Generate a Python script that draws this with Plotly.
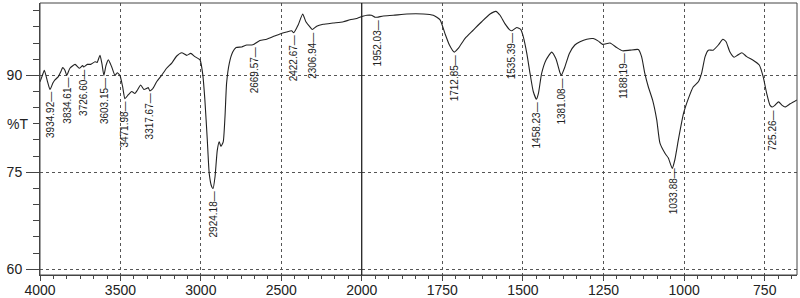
import numpy as np
import plotly.graph_objects as go

# Wavenumber (cm-1) and transmittance (%T)
wavenumber = [
    4000, 3985, 3973, 3955, 3938, 3920, 3907, 3886, 3870, 3859, 3845, 3834, 3814, 3782,
    3756, 3735, 3727, 3706, 3685, 3658, 3645, 3627, 3615, 3603, 3590, 3575, 3554, 3534,
    3520, 3503, 3486, 3472, 3451, 3430, 3410, 3395, 3374, 3354, 3335, 3327, 3317, 3300,
    3275, 3244, 3213, 3181, 3150, 3119, 3088, 3063, 3037, 3010, 3005, 2989, 2975, 2960,
    2948, 2933, 2924, 2912, 2898, 2886, 2875, 2861, 2850, 2840, 2823, 2802, 2781, 2746,
    2715, 2684, 2670, 2633, 2591, 2550, 2508, 2467, 2436, 2422, 2395, 2367, 2347, 2322,
    2307, 2280, 2240, 2178, 2114, 2073, 2031, 2000,
    1984, 1970, 1959, 1952, 1933, 1902, 1860, 1809, 1778, 1757, 1742, 1728, 1713, 1700,
    1680, 1654, 1628, 1602, 1584, 1571, 1556, 1540, 1535, 1519, 1507, 1499, 1488, 1478,
    1468, 1458, 1452, 1442, 1428, 1411, 1398, 1385, 1381, 1370, 1356, 1339, 1323, 1302,
    1282, 1266, 1253, 1230, 1209, 1191, 1168, 1142, 1132, 1122, 1111, 1098, 1085, 1075,
    1059, 1049, 1037, 1029, 1018, 1002, 987, 972, 956, 946, 935, 925, 910, 894, 880, 870,
    858, 845, 835, 821, 806, 785, 767, 755, 744, 734, 726, 718, 707, 697, 687, 671, 650,
]
transmittance = [
    89.0, 90.0, 90.8, 89.2, 87.8, 88.8, 89.3, 89.8, 90.6, 91.2, 90.8, 90.0, 91.1, 91.7,
    91.1, 91.5, 91.3, 91.7, 91.7, 92.1, 92.0, 93.1, 91.8, 90.0, 91.5, 92.4, 91.3, 90.0,
    90.4, 90.0, 88.2, 86.4, 87.0, 87.5, 87.2, 87.7, 88.5, 87.8, 88.0, 88.1, 87.6, 87.9,
    89.0, 90.0, 91.1, 91.9, 93.0, 93.5, 93.1, 93.4, 92.9, 92.5, 92.4, 90.3, 86.2, 80.0,
    74.8, 72.8, 72.5, 74.3, 78.4, 79.7, 79.0, 79.7, 83.6, 88.8, 91.9, 93.6, 94.3, 94.4,
    94.7, 94.7, 94.8, 95.4, 95.6, 96.0, 96.4, 96.7, 96.9, 96.6, 97.8, 99.5, 98.3, 97.5,
    97.1, 97.6, 97.9, 98.1, 98.3, 98.6, 98.8, 99.1,
    99.3, 99.3, 99.0, 99.0, 99.2, 99.3, 99.5, 99.5, 99.3, 98.6, 96.5, 94.7, 93.6, 94.2,
    95.7, 97.0, 98.3, 99.5, 99.9, 99.3, 98.0, 97.0, 96.9, 97.4, 97.1, 96.0, 93.4, 90.3,
    87.5, 86.3, 87.2, 90.3, 92.4, 93.6, 92.6, 90.4, 90.0, 91.3, 93.4, 94.7, 95.2, 95.6,
    95.7, 95.3, 94.8, 95.0, 94.3, 93.8, 93.9, 94.0, 92.9, 90.3, 88.2, 86.2, 83.1, 79.5,
    77.9, 77.2, 75.6, 76.9, 80.0, 84.1, 86.4, 88.2, 89.0, 90.3, 92.9, 93.9, 93.9, 94.7, 95.6, 95.2,
    93.6, 92.8, 93.1, 93.5, 92.9, 92.3, 91.6, 89.8, 87.2, 85.4, 85.1, 85.4, 85.9, 85.4, 85.1, 85.6, 86.2,
]

peak_labels = [3934.92, 3834.61, 3726.60, 3603.15, 3471.98, 3317.67, 2924.18, 2669.57,
               2422.67, 2306.94, 1952.03, 1712.85, 1535.39, 1458.23, 1381.08, 1188.19,
               1033.88, 725.26]

left_ticks = [4000, 3500, 3000, 2500, 2000]
right_ticks = [1750, 1500, 1250, 1000, 750]
y_ticks = [60, 75, 90]

FONT = "Liberation Sans, Arial, sans-serif"
INK = "#222222"
FRAME = "#444444"
GRID = "#555555"

wn = np.array(wavenumber, dtype=float)
tr = np.array(transmittance, dtype=float)
split = 0.425

left_mask = wn >= 2000
right_mask = wn <= 2000

fig = go.Figure()
fig.add_trace(go.Scatter(x=wn[left_mask], y=tr[left_mask], mode="lines",
                         line=dict(color=INK, width=1.1, shape="spline", smoothing=0.5),
                         xaxis="x", yaxis="y", showlegend=False, hoverinfo="skip"))
fig.add_trace(go.Scatter(x=wn[right_mask], y=tr[right_mask], mode="lines",
                         line=dict(color=INK, width=1.1, shape="spline", smoothing=0.5),
                         xaxis="x2", yaxis="y", showlegend=False, hoverinfo="skip"))

# peak annotations (rotated, below curve)
order = np.argsort(wn)
for p in peak_labels:
    yv = float(np.interp(p, wn[order], tr[order]))
    fig.add_annotation(x=p, y=yv, xref="x" if p >= 2000 else "x2", yref="y",
                       text=f"{p:.2f}\u2014", textangle=-90, showarrow=False,
                       xanchor="center", yanchor="top", yshift=-1,
                       font=dict(family=FONT, size=10, color=INK))

fig.add_annotation(x=0, y=82.5, xref="paper", yref="y", text="%T", showarrow=False,
                   xanchor="right", xshift=-10, font=dict(family=FONT, size=14, color=INK))

axis_common = dict(
    showgrid=True, gridcolor=GRID, griddash="dot", gridwidth=1,
    ticks="outside", ticklen=5, tickcolor=FRAME, tickwidth=1,
    showline=True, linecolor=FRAME, linewidth=1,
    tickfont=dict(family=FONT, size=14, color=INK),
    zeroline=False, fixedrange=True, automargin=False,
)

fig.update_layout(
    width=800, height=298,
    margin=dict(l=40, r=3, t=3, b=23),
    paper_bgcolor="white", plot_bgcolor="white",
    xaxis=dict(domain=[0, split], range=[4000, 2000], tickmode="array", tickvals=left_ticks,
               minor=dict(ticklen=3, tickcolor=FRAME, dtick=500 / 6, tick0=4000, showgrid=False),
               anchor="y", ticklabelstandoff=-3, **axis_common),
    xaxis2=dict(domain=[split, 1], range=[2000, 650], tickmode="array", tickvals=right_ticks,
                minor=dict(ticklen=3, tickcolor=FRAME, dtick=250 / 6, tick0=2000, showgrid=False),
                anchor="y", ticklabelstandoff=-3, **axis_common),
    yaxis=dict(range=[59.1, 101.2], tickmode="array", tickvals=y_ticks,
               minor=dict(ticklen=6, tickcolor=FRAME, dtick=2.5, tick0=60, showgrid=False),
               anchor="x", ticklabelstandoff=1,
               **{**axis_common, "ticklen": 13}),
    shapes=[
        dict(type="rect", xref="paper", yref="paper", x0=0, x1=1, y0=0, y1=1,
             line=dict(color=FRAME, width=1), layer="above"),
        dict(type="line", xref="paper", yref="paper", x0=split, x1=split, y0=0, y1=1,
             line=dict(color="#111111", width=1.2), layer="above"),
    ],
)

fig.write_html("out.html", config={"displayModeBar": False},
               post_script="document.body.style.margin='0';document.body.style.overflow='hidden';")
